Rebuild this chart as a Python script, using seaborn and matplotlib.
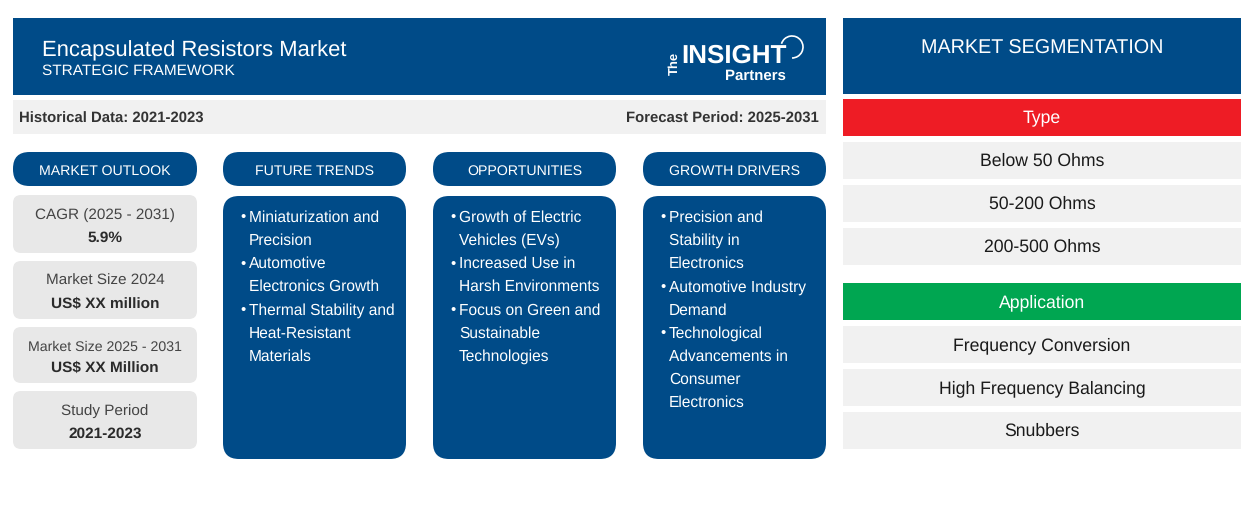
"""Encapsulated Resistors Market strategic framework infographic."""

import matplotlib

matplotlib.use("Agg")
import matplotlib.pyplot as plt  # noqa: E402
import seaborn as sns  # noqa: E402
from matplotlib.patches import Arc, FancyBboxPatch, Rectangle  # noqa: E402

TITLE = "Encapsulated Resistors Market"
SUBTITLE = "STRATEGIC FRAMEWORK"
HISTORICAL = "Historical Data: 2021-2023"
FORECAST = "Forecast Period: 2025-2031"

column_titles = ["MARKET OUTLOOK", "FUTURE TRENDS", "OPPORTUNITIES", "GROWTH DRIVERS"]
card_labels = ["CAGR (2025 - 2031)", "Market Size 2024", "Market Size 2025 - 2031", "Study Period"]
card_values = ["5.9%", "US$ XX million", "US$ XX Million", "2021-2023"]

future_trends = [
    ["Miniaturization and", "Precision"],
    ["Automotive", "Electronics Growth"],
    ["Thermal Stability and", "Heat-Resistant", "Materials"],
]
opportunities = [
    ["Growth of Electric", "Vehicles (EVs)"],
    ["Increased Use in", "Harsh Environments"],
    ["Focus on Green and", "Sustainable", "Technologies"],
]
growth_drivers = [
    ["Precision and", "Stability in", "Electronics"],
    ["Automotive Industry", "Demand"],
    ["Technological", "Advancements in", "Consumer", "Electronics"],
]

segment_title = "MARKET SEGMENTATION"
type_title = "Type"
type_items = ["Below 50 Ohms", "50-200 Ohms", "200-500 Ohms"]
application_title = "Application"
application_items = ["Frequency Conversion", "High Frequency Balancing", "Snubbers"]

BLUE = "#004b88"
RED = "#ee1c25"
GREEN = "#00a651"
LIGHT = "#f1f1f1"
CARD = "#e8e8e8"
px = 0.72  # css px to points at dpi 100

sns.set_theme(style="white")
plt.rcParams["font.family"] = ["Liberation Sans", "DejaVu Sans"]
plt.rcParams["text.hinting"] = "no_hinting"

fig, ax = plt.subplots(figsize=(12.54, 5.30), dpi=100)
fig.subplots_adjust(0, 0, 1, 1)
ax.set_xlim(0, 1254)
ax.set_ylim(530, 0)
ax.axis("off")


def rect(x0, y0, x1, y1, color):
    ax.add_patch(Rectangle((x0, y0), x1 - x0, y1 - y0, fc=color, ec="none"))


def rounded(x0, y0, x1, y1, r, color):
    ax.add_patch(
        FancyBboxPatch(
            (x0, y0), x1 - x0, y1 - y0,
            boxstyle=f"round,pad=0,rounding_size={r}", fc=color, ec="none",
        )
    )


def label(x, y, s, size, color="white", ha="center", **kw):
    ax.text(x, y, s, fontsize=size * px, color=color, ha=ha, va="center_baseline", **kw)


# Header band
rect(13, 17.5, 826, 94.5, BLUE)
label(42, 48, TITLE, 22, ha="left")
label(42, 69, SUBTITLE, 15.4, ha="left")

# Logo
label(674, 57, "The", 13, rotation=90, fontweight="bold")
label(681, 53.5, "INSIGHT", 26, ha="left", fontweight="bold")
label(786, 74, "Partners", 15, ha="right", fontweight="bold")
ax.add_patch(Arc((792, 47), 22, 22, theta1=197, theta2=450, ec="white", lw=1.2))

# Period bar
rect(13, 100, 826, 134, LIGHT)
label(19, 117.5, HISTORICAL, 14.9, color="#333333", ha="left", fontweight="bold")
label(819, 117.5, FORECAST, 14.9, color="#333333", ha="right", fontweight="bold")

# Column pills
col_x = [(13, 197), (223, 406), (433, 616), (643, 826)]
for (x0, x1), title in zip(col_x, column_titles):
    rounded(x0, 152, x1, 186, 16.5, BLUE)
    label((x0 + x1) / 2, 169.5, title, 14.1)

# Outlook cards
card_y = [(195, 253), (261, 319), (327, 383), (391, 449)]
for i, ((y0, y1), name, value) in enumerate(zip(card_y, card_labels, card_values)):
    rounded(13, y0, 197, y1, 8, CARD)
    label(105, y0 + 18.5, name, 14.1 if i == 2 else 15.3, color="#444444")
    label(105, y0 + 41.5 if i != 2 else y0 + 39, value, 15.4, color="#2b2b2b", fontweight="bold")

# Bullet panels
for (x0, x1), items in zip(col_x[1:], [future_trends, opportunities, growth_drivers]):
    rounded(x0, 196, x1, 459, 16, BLUE)
    y = 216
    for item in items:
        label(x0 + 20, y, "\u2022", 15)
        for line in item:
            label(x0 + 26, y, line, 15.5, ha="left")
            y += 23.15

# Segmentation column
rect(843, 17.5, 1241, 93.5, BLUE)
label(1042, 46.5, segment_title, 19.8)
for y0, title, color, items in [
    (99, type_title, RED, type_items),
    (283, application_title, GREEN, application_items),
]:
    rect(843, y0, 1241, y0 + 37, color)
    label(1042, y0 + 18, title, 17.6)
    for k, item in enumerate(items):
        top = y0 + 43 + 43 * k
        rect(843, top, 1241, top + 37, LIGHT)
        label(1042, top + 17.5, item, 17.6, color="#1a1a1a")

fig.savefig("out.png", dpi=100)
plt.close(fig)
